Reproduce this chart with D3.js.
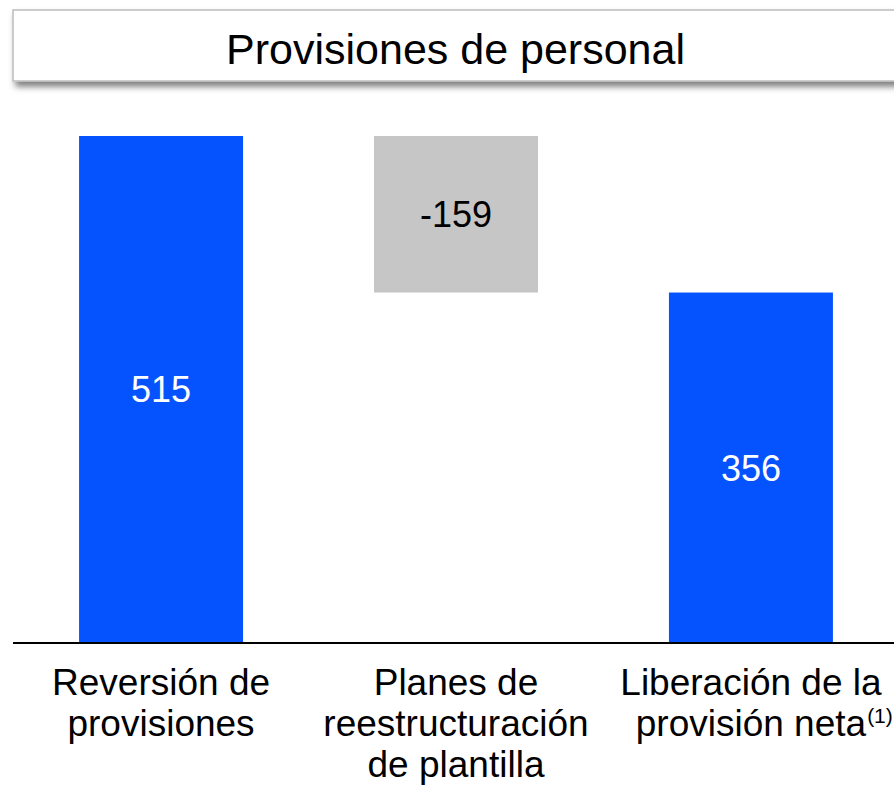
<!DOCTYPE html>
<html>
<head>
<meta charset="utf-8">
<script src="https://cdn.jsdelivr.net/npm/d3@7.9.0/dist/d3.min.js"></script>
<style>
  html, body { margin: 0; padding: 0; background: #fff; }
  svg { display: block; font-family: "Liberation Sans", Arial, sans-serif; }
</style>
</head>
<body>
<svg id="chart" width="894" height="787"></svg>
<script>
// Chart data
const title = 'Provisiones de personal';
const categories = ['Reversión de provisiones', 'Planes de reestructuración de plantilla', 'Liberación de la provisión neta'];
const labelLines = [
    ['Reversión de', 'provisiones'],
    ['Planes de', 'reestructuración', 'de plantilla'],
    ['Liberación de la', 'provisión neta']
];
const values = [515, -159, 356];
const kinds = ['total', 'delta', 'total'];
const footnoteMarks = ['', '', '(1)'];

const width = 894;
const height = 787;
const baseY = 643;
const topY = 136;

const svg = d3.select('#chart');

// Drop shadow for title box
const defs = svg.append('defs');
const shadow = defs.append('filter')
    .attr('id', 'shadow')
    .attr('x', '-5%').attr('y', '-20%')
    .attr('width', '115%').attr('height', '160%');
shadow.append('feDropShadow')
    .attr('dx', 3).attr('dy', 5)
    .attr('stdDeviation', 3)
    .attr('flood-color', '#000')
    .attr('flood-opacity', 0.5);

// Title box
svg.append('rect')
    .attr('x', 13).attr('y', 10)
    .attr('width', 890).attr('height', 71)
    .attr('fill', '#fff')
    .attr('stroke', '#bdbdbd')
    .attr('stroke-width', 1.5)
    .attr('filter', 'url(#shadow)');

svg.append('text')
    .attr('x', 455.5).attr('y', 64)
    .attr('text-anchor', 'middle')
    .attr('font-size', 43)
    .attr('fill', '#000')
    .text(title);

// Compute waterfall start/end
let running = 0;
const bars = values.map((v, i) => {
    let y0, y1;
    if (kinds[i] === 'total') {
        y0 = 0; y1 = v; running = v;
    } else {
        y0 = running; y1 = running + v; running = y1;
    }
    return { cat: categories[i], value: v, kind: kinds[i], lo: Math.min(y0, y1), hi: Math.max(y0, y1) };
});

const x = d3.scaleBand()
    .domain(categories)
    .range([13, 899])
    .paddingInner(0.444)
    .paddingOuter(0.224);

const y = d3.scaleLinear()
    .domain([0, d3.max(bars, d => d.hi)])
    .range([baseY, topY]);

const colors = { total: '#0552ff', delta: '#c6c6c6' };
const textColors = { total: '#fff', delta: '#000' };

svg.append('g')
    .selectAll('rect')
    .data(bars)
    .join('rect')
    .attr('x', d => x(d.cat))
    .attr('y', d => y(d.hi))
    .attr('width', x.bandwidth())
    .attr('height', d => y(d.lo) - y(d.hi))
    .attr('fill', d => colors[d.kind]);

// Value labels (plain hyphen for negatives, as in the source)
const valueSize = 36;
svg.append('g')
    .selectAll('text')
    .data(bars)
    .join('text')
    .attr('x', d => x(d.cat) + x.bandwidth() / 2)
    .attr('y', d => (y(d.lo) + y(d.hi)) / 2 + valueSize * 0.358)
    .attr('text-anchor', 'middle')
    .attr('font-size', valueSize)
    .attr('fill', d => textColors[d.kind])
    .text(d => String(d.value));

// Axis baseline
svg.append('line')
    .attr('x1', 13).attr('x2', width)
    .attr('y1', baseY).attr('y2', baseY)
    .attr('stroke', '#000')
    .attr('stroke-width', 2);

// Category labels
const labelSize = 37;
const lineGap = 41;
categories.forEach((c, i) => {
    const cx = x(c) + x.bandwidth() / 2;
    labelLines[i].forEach((line, j) => {
        const ty = 695 + j * lineGap;
        const t = svg.append('text')
            .attr('x', cx).attr('y', ty)
            .attr('text-anchor', 'middle')
            .attr('font-size', labelSize)
            .attr('fill', '#000')
            .text(line);
        if (j === labelLines[i].length - 1 && footnoteMarks[i]) {
            const len = t.node().getComputedTextLength();
            svg.append('text')
                .attr('x', cx + len / 2 + 1).attr('y', ty - 13)
                .attr('font-size', 21)
                .attr('fill', '#000')
                .text(footnoteMarks[i]);
        }
    });
});
</script>
</body>
</html>
